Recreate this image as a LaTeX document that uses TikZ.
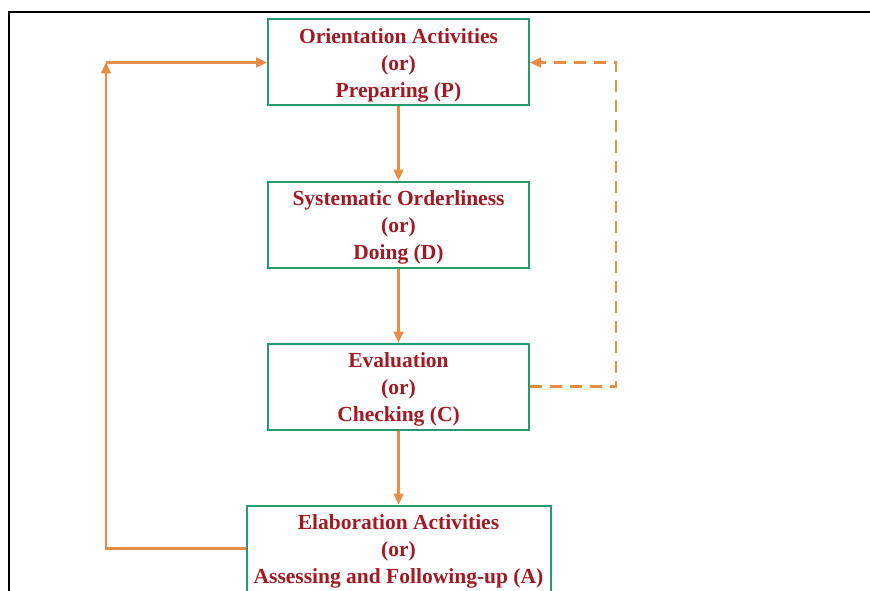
\documentclass[tikz,border=0pt]{standalone}
\usepackage{fontspec}
\setmainfont{Liberation Serif}
\usetikzlibrary{positioning,arrows.meta}
\definecolor{boxgreen}{RGB}{40,155,110}
\definecolor{textred}{RGB}{160,25,35}
\definecolor{lineorange}{RGB}{232,140,70}
\newcommand{\stagegap}{\rule{0pt}{21pt}}
\begin{document}
\begin{tikzpicture}[x=1pt,y=-1pt,node distance=74pt]
        \tikzstyle{stage} = [rectangle, minimum width=261pt, minimum height=86pt, inner ysep=0pt, text centered, align=center, draw=boxgreen, line width=2pt, text=textred, font=\bfseries\fontsize{21.5}{27}\selectfont]
        \tikzstyle{arrow} = [line width=2.2pt, draw=lineorange, -{Triangle[length=11pt,width=10pt]}]
        \tikzstyle{backarrow} = [arrow, dash pattern=on 12pt off 8pt]

        \useasboundingbox (0,0) rectangle (870,591);
        \draw[line width=2.8pt] (9,595) -- (9,12) -- (870,12);

        \node (prep) [stage] at (398.5,62.5) {\stagegap Orientation Activities\\(or)\\Preparing (P)};
        \node (doing) [stage, below=of prep] {\stagegap Systematic Orderliness\\(or)\\Doing (D)};
        \node (check) [stage, below=of doing] {\stagegap Evaluation\\(or)\\Checking (C)};
        \node (assess) [stage, below=of check, minimum width=304pt] {\stagegap Elaboration Activities\\(or)\\Assessing and Following-up (A)};
        \coordinate (lcorner) at (106,62.5);
        \coordinate (rcorner) at (616,62.5);

        \draw [arrow] (prep) -- (doing);
        \draw [arrow] (doing) -- (check);
        \draw [arrow] (check) -- (assess);
        \draw [arrow] (assess.west) -| (lcorner);
        \draw [arrow] (lcorner) -- (prep.west);
        \draw [backarrow] (check.east) -| (rcorner) -- (prep.east);
    \end{tikzpicture}
\end{document}
